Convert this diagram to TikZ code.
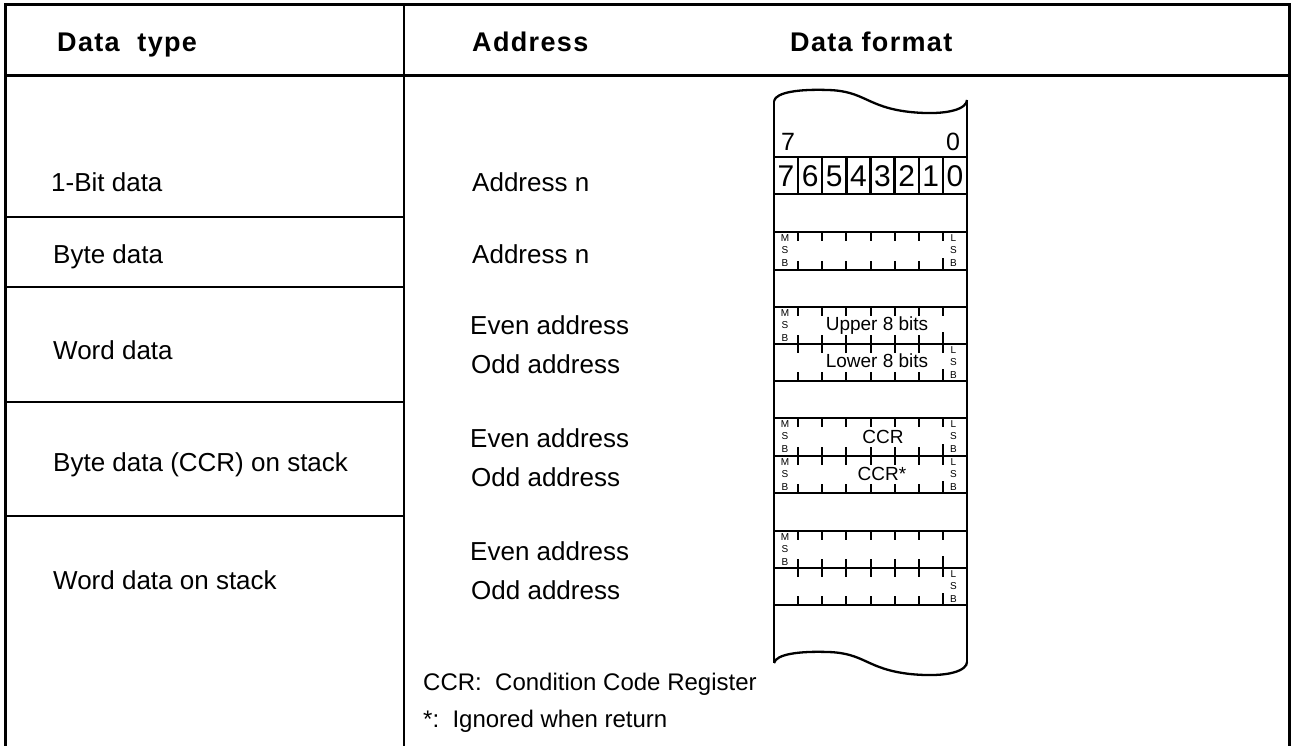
\documentclass[tikz,border=0pt]{standalone}
\usepackage{fontspec}
\setmainfont{Liberation Sans}
\begin{document}
\begin{tikzpicture}[x=1pt,y=-1pt,
  frame/.style={line width=3pt},
  rule/.style={line width=1.3pt},
  mem/.style={line width=2.3pt},
  tickline/.style={line width=2pt},
  hdr/.style={font=\fontsize{27}{32}\selectfont\bfseries\addfontfeature{LetterSpace=5}, anchor=base west, inner sep=0pt},
  body/.style={font=\fontsize{26}{31}\selectfont, anchor=base west, inner sep=0pt},
  note/.style={font=\fontsize{24}{29}\selectfont, anchor=base west, inner sep=0pt},
  bitlbl/.style={font=\fontsize{25}{30}\selectfont, inner sep=0pt},
  bitnum/.style={font=\fontsize{30}{36}\selectfont, inner sep=0pt},
  memtxt/.style={font=\fontsize{19}{23}\selectfont, inner sep=0pt},
  sb/.style={font=\fontsize{10}{12.5}\selectfont, align=center, inner sep=0pt}
]
\fill[white] (0,0) rectangle (1291,746);
\useasboundingbox (0,0) rectangle (1291,746);

% table frame
\draw[frame] (5,746) -- (5,5) -- (1289,5) -- (1289,746);
\draw[frame] (5,76) -- (1289,76);
\draw[rule] (404,5) -- (404,746);
\foreach \y in {217,287,402,516} \draw[rule] (5,\y) -- (404,\y);

% headers
\node[hdr] (hType) at (57,52) {Data \ type};
\node[hdr] (hAddr) at (472,52) {Address};
\node[hdr] (hFmt) at (790,52) {Data format};

% data types
\node[body] (t1) at (51,192) {1-Bit data};
\node[body] (t2) at (53,264) {Byte data};
\node[body] (t3) at (53,359) {Word data};
\node[body] (t4) at (53,471) {Byte data (CCR) on stack};
\node[body] (t5) at (53,589) {Word data on stack};

% addresses
\node[body] (a1) at (472,192) {Address n};
\node[body] (a2) at (472,264) {Address n};
\node[body] (a3e) at (470,334) {Even address};
\node[body] (a3o) at (471,373) {Odd address};
\node[body] (a4e) at (470,447) {Even address};
\node[body] (a4o) at (471,486) {Odd address};
\node[body] (a5e) at (470,560) {Even address};
\node[body] (a5o) at (471,599) {Odd address};

% notes
\node[note] (n1) at (423,690) {CCR:\ \ Condition Code Register};
\node[note] (n2) at (423,727) {*:\ \ Ignored when return};

% memory column
\draw[mem] (774,101) .. controls (776,92) and (800,89) .. (828,90)
  .. controls (865,91) and (866,107) .. (910,112)
  .. controls (950,116) and (967,108) .. (967,100);
\draw[mem] (774,663) .. controls (776,654) and (800,651) .. (828,652)
  .. controls (865,653) and (866,669) .. (910,674)
  .. controls (950,678) and (967,670) .. (967,662);
\draw[mem] (774,101) -- (774,663);
\draw[mem] (967,100) -- (967,662);
\foreach \y in {157,194,232,270,307,344,381,418,456,493,531,568,605}
  \draw[mem] (774,\y) -- (967,\y);
\foreach \k in {1,...,7}
  \draw[mem] ({774+\k*24.125},157) -- ++(0,37);

% bit labels
\node[bitlbl] (b7) at (788,142) {7};
\node[bitlbl] (b0) at (953,142) {0};
\foreach \k in {0,...,7} {
  \pgfmathtruncatemacro{\d}{7-\k}
  \node[bitnum] (bit\d) at ({774+(\k+0.5)*24.125},176) {\d};
}

% ticks
\foreach \t/\b in {232/270,307/344,344/381,418/456,456/493,531/568,568/605} {
  \foreach \k in {1,...,7}
    \draw[tickline] ({774+\k*24.125},\t) -- ++(0,9);
  \foreach \k in {1,...,6}
    \draw[tickline] ({774+\k*24.125},\b) -- ++(0,-9);
  \draw[tickline] ({774+7*24.125},\b) -- ++(0,-12);
}

% MSB / LSB marks
\foreach \n/\y in {1/232,2/307,3/418,4/456,5/531}
  \node[sb] (msb\n) at (785,{\y+18.5}) {M\\S\\B};
\foreach \n/\y in {1/232,2/344,3/418,4/456,5/568}
  \node[sb] (lsb\n) at (953.5,{\y+18.5}) {L\\S\\B};

% memory texts
\node[memtxt] (up) at (877,326) {Upper 8 bits};
\node[memtxt] (lo) at (877,361) {Lower 8 bits};
\node[memtxt] (ccr) at (883,437) {CCR};
\node[memtxt] (ccrs) at (882,474) {CCR*};
\end{tikzpicture}
\end{document}
